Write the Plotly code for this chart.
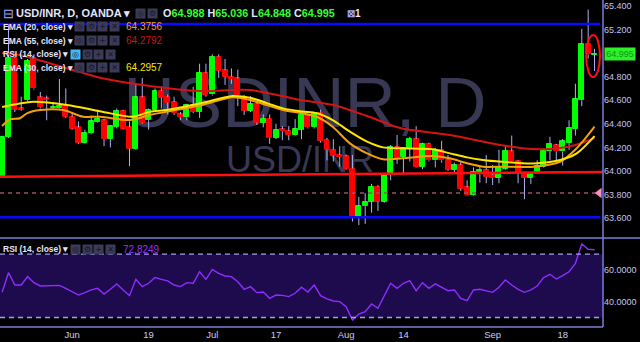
import plotly.graph_objects as go
import pandas as pd

# ---------------- data ----------------
opens = [63.95, 64.29, 64.96, 64.53, 64.60, 64.96, 64.625, 64.615, 64.53, 64.53,
         64.55, 64.46, 64.37, 64.24, 64.32, 64.415, 64.43, 64.27, 64.375, 64.51,
         64.37, 64.19, 64.625, 64.43, 64.52, 64.68, 64.625, 64.585, 64.48, 64.46,
         64.56, 64.50, 64.83, 64.65, 64.97, 64.855, 64.80, 64.785, 64.625, 64.51,
         64.57, 64.41, 64.445, 64.28, 64.355, 64.34, 64.305, 64.35, 64.47, 64.37,
         64.495, 64.265, 64.18, 64.135, 64.125, 64.02, 63.61, 63.70, 63.74, 63.865,
         63.74, 63.97, 64.20, 64.12, 64.195, 64.27, 64.035, 64.23, 64.09, 64.18,
         64.095, 64.01, 64.05, 63.86, 63.795, 63.99, 64.01, 63.965, 63.94, 64.02,
         64.165, 64.08, 63.985, 63.94, 63.985, 64.035, 64.17, 64.22, 64.165, 64.24,
         64.355, 64.60, 65.08, 64.988]
highs = [64.30, 65.24, 64.97, 64.63, 64.95, 64.99, 64.67, 64.64, 64.58, 64.78,
         64.70, 64.50, 64.42, 64.35, 64.47, 64.52, 64.44, 64.39, 64.53, 64.52,
         64.42, 64.74, 64.79, 64.53, 64.70, 64.72, 64.65, 64.63, 64.50, 64.57,
         64.715, 64.91, 64.91, 64.99, 64.99, 64.95, 64.87, 64.86, 64.645, 64.635,
         64.58, 64.48, 64.48, 64.40, 64.38, 64.38, 64.44, 64.48, 64.48, 64.50,
         64.52, 64.28, 64.27, 64.21, 64.14, 64.135, 63.78, 63.81, 63.89, 63.88,
         63.97, 64.22, 64.305, 64.20, 64.29, 64.38, 64.24, 64.24, 64.195, 64.255,
         64.135, 64.07, 64.08, 63.92, 64.03, 64.045, 64.135, 64.05, 64.18, 64.21,
         64.30, 64.09, 63.99, 63.99, 64.09, 64.19, 64.29, 64.23, 64.27, 64.43,
         64.74, 65.205, 65.37, 65.036]
lows = [63.94, 64.28, 64.50, 64.51, 64.59, 64.69, 64.53, 64.43, 64.52, 64.52,
        64.45, 64.35, 64.23, 64.23, 64.31, 64.41, 64.21, 64.20, 64.36, 64.35,
        64.04, 64.18, 64.40, 64.35, 64.51, 64.53, 64.48, 64.475, 64.43, 64.43,
        64.49, 64.45, 64.63, 64.64, 64.79, 64.73, 64.74, 64.55, 64.475, 64.50,
        64.39, 64.37, 64.23, 64.27, 64.26, 64.26, 64.30, 64.27, 64.36, 64.36,
        64.24, 64.09, 64.08, 64.035, 64.01, 63.57, 63.54, 63.55, 63.645, 63.66,
        63.73, 63.92, 64.06, 63.98, 64.08, 64.03, 64.015, 64.08, 64.03, 64.07,
        64.00, 63.99, 63.83, 63.79, 63.79, 63.90, 63.895, 63.88, 63.895, 64.01,
        64.07, 63.895, 63.76, 63.89, 63.98, 64.03, 64.09, 64.08, 64.045, 64.18,
        64.30, 64.55, 64.955, 64.848]
closes = [64.29, 64.96, 64.52, 64.52, 64.93, 64.70, 64.54, 64.605, 64.54, 64.55,
          64.46, 64.36, 64.24, 64.32, 64.42, 64.44, 64.27, 64.38, 64.51, 64.36,
          64.19, 64.625, 64.41, 64.52, 64.68, 64.62, 64.58, 64.49, 64.455, 64.56,
          64.50, 64.83, 64.645, 64.97, 64.85, 64.80, 64.78, 64.645, 64.51, 64.57,
          64.41, 64.445, 64.28, 64.35, 64.335, 64.305, 64.355, 64.475, 64.37, 64.495,
          64.255, 64.18, 64.13, 64.12, 64.02, 63.61, 63.70, 63.74, 63.865, 63.74,
          63.965, 64.20, 64.11, 64.195, 64.275, 64.035, 64.23, 64.09, 64.18, 64.09,
          64.01, 64.05, 63.85, 63.795, 63.99, 64.01, 63.95, 63.94, 64.03, 64.17,
          64.08, 63.98, 63.94, 63.985, 64.04, 64.17, 64.225, 64.165, 64.25, 64.365,
          64.61, 65.08, 64.99, 64.995]
rsi = [45.9, 58.3, 50.5, 50.5, 55.8, 52.0, 49.9, 49.9, 49.9, 50.3,
       48.4, 46.3, 44.2, 45.7, 47.4, 48.4, 44.8, 47.8, 51.2, 47.4,
       43.8, 54.1, 49.5, 51.6, 55.2, 54.1, 53.1, 50.5, 49.5, 52.0,
       51.6, 58.9, 54.1, 60.4, 57.9, 56.2, 55.8, 52.6, 47.8, 49.5,
       45.7, 46.1, 42.1, 44.2, 44.0, 43.2, 45.3, 49.1, 46.1, 50.5,
       43.8, 41.7, 40.4, 40.0, 36.8, 28.4, 32.2, 33.7, 38.5, 35.8,
       44.2, 51.6, 48.4, 51.6, 53.3, 46.9, 52.0, 48.4, 51.2, 48.8,
       46.9, 47.4, 42.1, 40.6, 47.4, 47.8, 46.7, 45.9, 49.1, 53.7,
       50.5, 47.8, 45.9, 47.4, 49.9, 55.2, 57.3, 54.3, 56.4, 58.9,
       64.2, 76.4, 73.1, 72.82]

ema20_x = [0, 1.2, 2.8, 3.9, 6, 9.6, 12.7, 15.4, 20.1, 23.2, 31.4, 36.2, 38.9, 44.1,
           47.1, 49.4, 51.9, 54.6, 57.3, 59.8, 62.8, 67.6, 70.3, 73, 75.5, 78.5,
           83.4, 87.6, 90.2, 93]
ema20_v = [64.381, 64.438, 64.447, 64.489, 64.517, 64.517, 64.460, 64.460, 64.432, 64.475,
           64.560, 64.625, 64.602, 64.517, 64.489, 64.460, 64.375, 64.234, 64.149, 64.099,
           64.107, 64.127, 64.107, 64.065, 64.036, 64.036, 64.036, 64.078, 64.192, 64.3756]
ema30_x = [0, 4.9, 10.2, 15.7, 20.5, 23.2, 25.9, 31.4, 36.2, 38.9, 44.1, 47.1, 49.4,
           51.9, 54.6, 57.3, 59.8, 62.8, 67.6, 70.3, 73, 75.5, 78.5, 83.4, 87.6, 90.2, 93]
ema30_v = [64.543, 64.588, 64.560, 64.503, 64.460, 64.503, 64.517, 64.576, 64.636, 64.621,
           64.531, 64.504, 64.489, 64.432, 64.333, 64.248, 64.200, 64.192, 64.183, 64.149,
           64.115, 64.093, 64.078, 64.064, 64.093, 64.149, 64.2957]
ema55_x = [0, 2.8, 10, 15.4, 23.2, 31.1, 38.9, 46.8, 52, 57.3, 62.5, 70.3, 78.2, 83.3,
           87.6, 90, 93]
ema55_v = [65.001, 64.984, 64.874, 64.791, 64.721, 64.678, 64.687, 64.602, 64.560, 64.466,
           64.364, 64.305, 64.220, 64.186, 64.195, 64.220, 64.2792]

tick_dates = ["2017-06-01", "2017-06-19", "2017-07-03", "2017-07-17",
              "2017-08-01", "2017-08-14", "2017-09-01", "2017-09-18"]
tick_text = ["Jun", "19", "Jul", "17", "Aug", "14", "Sep", "18"]
price_ticks = [63.6, 63.8, 64.0, 64.2, 64.4, 64.6, 64.8, 65.2, 65.4]
rsi_ticks = [40, 60]

blue_levels = [65.247, 63.607]
trend_x = [-0.33, 94.33]
trend_y = [63.951, 63.991]
dash_level = 63.812
circle_x = [91.7, 93.85]
circle_y = [64.797, 65.154]
last_price = 64.995
legend_vals = {"ema20": "64.3756", "ema55": "64.2792", "ema30": "64.2957", "rsi": "72.8249"}
ohlc_text = ["64.988", "65.036", "64.848", "64.995"]

# ---------------- derived ----------------
n = len(closes)
dates = pd.bdate_range("2017-05-17", periods=n).strftime("%Y-%m-%d").tolist()
idx = list(range(n))
tick_idx = [dates.index(d) for d in tick_dates]

XR = [-0.33, 94.33]
W, H, B = 640, 342, 15
PH = H - B


def px(x):
    return x / W


def py(y):
    return 1 - y / PH


body_base = [min(o, c) for o, c in zip(opens, closes)]
body_h = [abs(c - o) for o, c in zip(opens, closes)]
body_col = ["#00ff00" if c >= o else "#ff0000" for o, c in zip(opens, closes)]

wx, wy = [], []
for i in idx:
    top = max(opens[i], closes[i])
    bot = min(opens[i], closes[i])
    wx += [i, i, None, i, i, None]
    wy += [highs[i], top, None, bot, lows[i], None]

fig = go.Figure()

fig.add_trace(go.Scatter(x=wx, y=wy, mode="lines", line=dict(color="#aeb0f2", width=1),
                         hoverinfo="skip", yaxis="y"))
fig.add_trace(go.Bar(x=idx, y=body_h, base=body_base, width=0.78,
                     marker=dict(color=body_col, line=dict(color=body_col, width=1)),
                     yaxis="y", hoverinfo="skip"))

fig.add_trace(go.Scatter(x=ema55_x, y=ema55_v, mode="lines", line=dict(color="#d41414", width=2, shape="spline", smoothing=0.8), yaxis="y"))
fig.add_trace(go.Scatter(x=ema20_x, y=ema20_v, mode="lines", line=dict(color="#f2a00c", width=2, shape="spline", smoothing=0.8), yaxis="y"))
fig.add_trace(go.Scatter(x=ema30_x, y=ema30_v, mode="lines", line=dict(color="#ffe600", width=2, shape="spline", smoothing=0.8), yaxis="y"))

# drawings
for lv in blue_levels:
    fig.add_trace(go.Scatter(x=[XR[0], 93.9], y=[lv, lv], mode="lines",
                             line=dict(color="#0a0aff", width=2.5), yaxis="y"))
fig.add_trace(go.Scatter(x=trend_x, y=trend_y, mode="lines", line=dict(color="#ff1010", width=2.5), yaxis="y"))
fig.add_trace(go.Scatter(x=[XR[0], 93.2], y=[dash_level, dash_level], mode="lines",
                         line=dict(color="#9a4d6e", width=1.5, dash="4px,4px"), yaxis="y"))
fig.add_trace(go.Scatter(x=[93.75], y=[dash_level], mode="markers",
                         marker=dict(symbol="triangle-left", size=9, color="#ff8cc8"), yaxis="y"))

# RSI
fig.add_trace(go.Scatter(x=idx, y=rsi, mode="lines", line=dict(color="#8f2cff", width=1.4), yaxis="y2"))

shapes = []
# watermark (below traces)
shapes.append(dict(type="rect", xref="paper", yref="paper", x0=px(110), x1=px(500), y0=py(128), y1=py(62),
                   line=dict(width=0), fillcolor="rgba(0,0,0,0)", layer="below",
                   label=dict(text="USDINR, D", font=dict(size=71, color="#383854", family="Liberation Sans"),
                              textposition="middle center")))
shapes.append(dict(type="rect", xref="paper", yref="paper", x0=px(220), x1=px(380), y0=py(172), y1=py(140),
                   line=dict(width=0), fillcolor="rgba(0,0,0,0)", layer="below",
                   label=dict(text="USD/INR", font=dict(size=36, color="#383854", family="Liberation Sans"),
                              textposition="middle center")))
# RSI band
shapes.append(dict(type="rect", xref="x domain", yref="y2", x0=0, x1=1, y0=30, y1=70,
                   fillcolor="#1e0b4d", line=dict(width=0), layer="below"))
for lv in (30, 70):
    shapes.append(dict(type="line", xref="x domain", yref="y2", x0=0, x1=1, y0=lv, y1=lv,
                       line=dict(color="#a49cf0", width=1.3, dash="5px,4px")))
# frame lines
axis_col = "#7c7cd6"
shapes.append(dict(type="line", xref="paper", yref="paper", x0=0, x1=1, y0=py(238), y1=py(238),
                   line=dict(color=axis_col, width=1.5)))
shapes.append(dict(type="line", xref="paper", yref="paper", x0=0, x1=px(603), y0=0, y1=0,
                   line=dict(color=axis_col, width=1.5)))
shapes.append(dict(type="line", xref="paper", yref="paper", x0=px(603), x1=px(603), y0=0, y1=1,
                   line=dict(color=axis_col, width=1.5)))
# highlight ellipse
shapes.append(dict(type="circle", xref="x", yref="y", x0=circle_x[0], x1=circle_x[1],
                   y0=circle_y[0], y1=circle_y[1], line=dict(color="#ff1010", width=2)))

ann = []
FONT = "Liberation Sans"
TXT = "#e4e4ff"


def text(x, y, s, color=TXT, size=8.5, bold=True):
    ann.append(dict(xref="paper", yref="paper", x=px(x), y=py(y), xanchor="left", yanchor="middle",
                    text=("<b>%s</b>" % s) if bold else s, showarrow=False,
                    font=dict(family=FONT, size=size, color=color)))


def icons(x, y, syms, first_bg=None):
    for k, s in enumerate(syms):
        bg = first_bg if (k == 0 and first_bg) else "#3b3b58"
        ann.append(dict(xref="paper", yref="paper", x=px(x + k * 11.5), y=py(y), xanchor="left",
                        yanchor="middle", text=s, showarrow=False, width=9, height=9,
                        bgcolor=bg, borderpad=0,
                        font=dict(family="DejaVu Sans", size=8, color="#16162c")))


text(1, 13, "⊟", color="#a8a8ff", size=13, bold=False)
text(14, 13, "USD/INR, D, OANDA ▾", size=11)
icons(135, 13, ["◎", "⚙"])
g = "#33ff33"
text(161, 13, 'O<span style="color:%s">%s</span> H<span style="color:%s">%s</span> '
              'L<span style="color:%s">%s</span> C<span style="color:%s">%s</span>'
     % (g, ohlc_text[0], g, ohlc_text[1], g, ohlc_text[2], g, ohlc_text[3]), size=10.8)
text(345, 13, '<span style="color:#a8a8ff">⊠</span>1', size=10)

text(1, 27, "EMA (20, close) ▾")
icons(74, 27, ["◎", "⚙", "+", "✕"])
text(124, 27, legend_vals["ema20"], color="#f0a030", bold=False, size=10)
text(1, 41, "EMA (55, close) ▾")
icons(74, 41, ["◎", "⚙", "+", "✕"])
text(124, 41, legend_vals["ema55"], color="#c81414", bold=False, size=10)
text(1, 54, "RSI (14, close) ▾")
icons(70, 54, ["◎", "⚙", "+", "✕"], first_bg="#45b8f5")
text(1, 68, "EMA (30, close) ▾")
icons(74, 68, ["◎", "⚙", "+", "✕"])
text(124, 68, legend_vals["ema30"], color="#f5e600", bold=False, size=10)

text(1, 249, "RSI (14, close) ▾")
icons(70, 249, ["◎", "⚙", "+", "✕"])
text(121, 249, legend_vals["rsi"], color="#9933ff", bold=False, size=10)

# last price label
ann.append(dict(xref="paper", yref="y", x=px(604), y=last_price, xanchor="left", yanchor="middle",
                text="64.995", showarrow=False, bgcolor="#2cf02c", borderpad=1, width=28,
                font=dict(family=FONT, size=9, color="#139413")))

fig.update_layout(
    width=W, height=H, margin=dict(l=0, r=0, t=0, b=B),
    paper_bgcolor="#000000", plot_bgcolor="#000000",
    showlegend=False, bargap=0, hovermode=False,
    shapes=shapes, annotations=ann,
    xaxis=dict(domain=[0, 603 / W], range=XR, anchor="y2", showgrid=False, zeroline=False,
               tickvals=tick_idx, ticktext=tick_text, ticks="", showline=False,
               tickfont=dict(family=FONT, size=9.5, color="#cacaf5"), automargin=False, fixedrange=True),
    yaxis=dict(domain=[(PH - 237) / PH, 1], range=[63.439, 65.451], side="right", anchor="x",
               showgrid=False, zeroline=False, showline=False, ticks="",
               tickvals=price_ticks, tickformat=".3f",
               tickfont=dict(family=FONT, size=9, color="#c4c4f0"), automargin=False, fixedrange=True),
    yaxis2=dict(domain=[0, (PH - 238) / PH], range=[24.0, 80.2], side="right", anchor="x",
                showgrid=False, zeroline=False, showline=False, ticks="",
                tickvals=rsi_ticks, tickformat=".4f",
                tickfont=dict(family=FONT, size=9, color="#c4c4f0"), automargin=False, fixedrange=True),
)

fig.write_html("out.html", config={"displayModeBar": False})
